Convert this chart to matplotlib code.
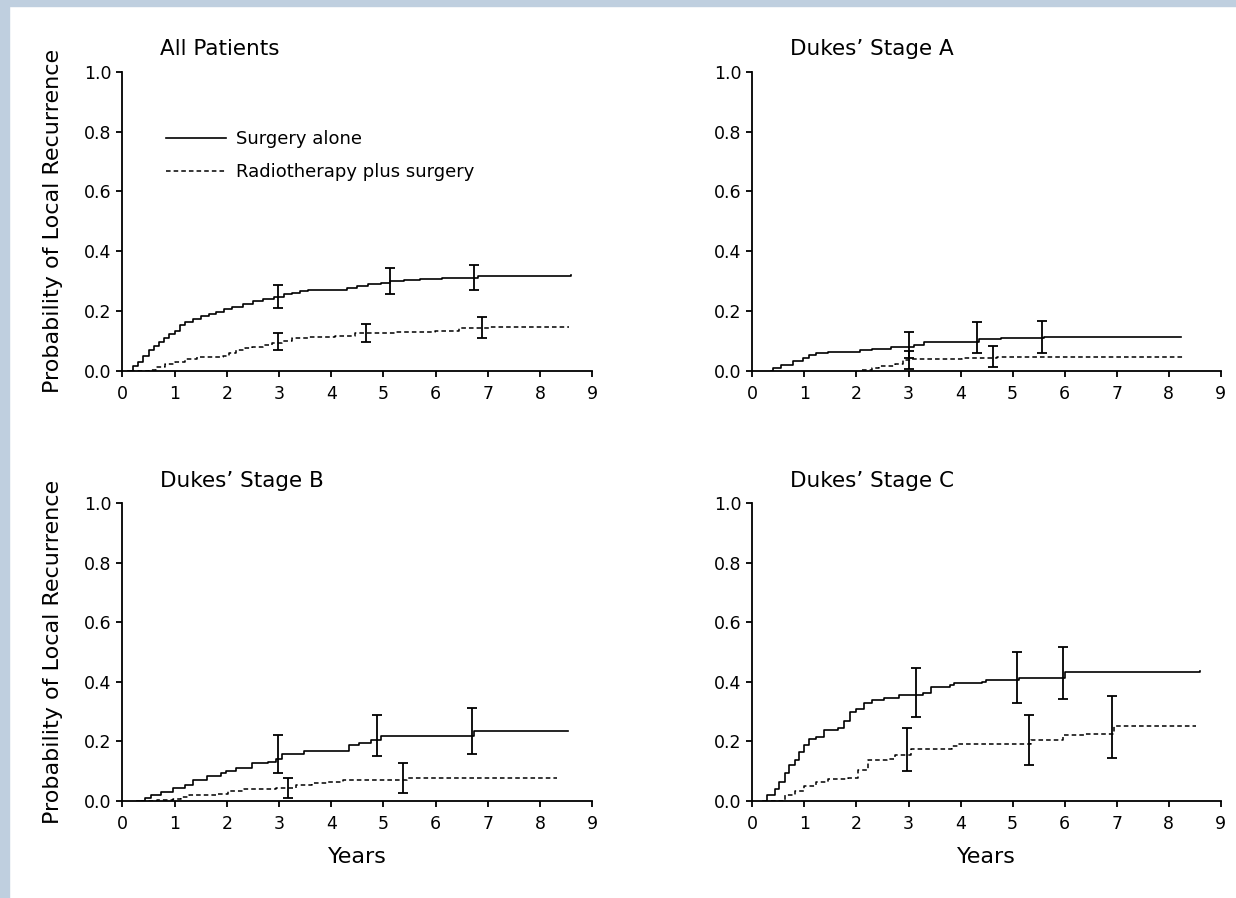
import matplotlib
matplotlib.use('Agg')
import matplotlib.pyplot as plt
from matplotlib.patches import Rectangle

plt.rcParams['font.family'] = ['DejaVu Sans']

# ---- All patients
all_surg_t = [0.1, 0.2, 0.3, 0.4, 0.5, 0.6, 0.7, 0.8, 0.9, 1.0, 1.1, 1.2, 1.35, 1.5, 1.65, 1.8, 1.95,
              2.1, 2.3, 2.5, 2.7, 2.9, 3.1, 3.25, 3.4, 3.55, 4.3, 4.5, 4.7, 4.95, 5.13, 5.4, 5.7,
              6.13, 6.81, 8.6]
all_surg_p = [0.0, 0.015, 0.03, 0.05, 0.07, 0.085, 0.098, 0.11, 0.122, 0.135, 0.155, 0.165, 0.172,
              0.182, 0.19, 0.198, 0.208, 0.215, 0.225, 0.233, 0.24, 0.248, 0.256, 0.262, 0.267,
              0.27, 0.278, 0.284, 0.29, 0.295, 0.30, 0.303, 0.306, 0.312, 0.318, 0.32]
all_surg_eb_t = [2.98, 5.13, 6.74]
all_surg_eb_lo = [0.209, 0.257, 0.271]
all_surg_eb_hi = [0.287, 0.343, 0.354]

all_rad_t = [0.15, 0.5, 0.65, 0.81, 1.0, 1.19, 1.42, 1.92, 2.05, 2.18, 2.35, 2.48, 2.7, 2.86,
             3.05, 3.24, 3.55, 4.08, 4.46, 4.75, 5.22, 5.98, 6.44, 7.04, 8.56]
all_rad_p = [0.0, 0.003, 0.012, 0.022, 0.03, 0.039, 0.045, 0.05, 0.06, 0.07, 0.076, 0.081, 0.087,
             0.092, 0.1, 0.109, 0.112, 0.117, 0.126, 0.128, 0.129, 0.134, 0.143, 0.148, 0.148]
all_rad_eb_t = [2.98, 4.67, 6.88]
all_rad_eb_lo = [0.07, 0.096, 0.109]
all_rad_eb_hi = [0.126, 0.157, 0.18]

# ---- Dukes' stage A
a_surg_t = [0.36, 0.40, 0.55, 0.78, 0.97, 1.08, 1.23, 1.46, 2.06, 2.29, 2.66, 3.11, 3.3, 4.36,
            4.78, 5.6, 8.24]
a_surg_p = [0.0, 0.011, 0.02, 0.033, 0.042, 0.053, 0.059, 0.065, 0.07, 0.073, 0.079, 0.087, 0.096,
            0.106, 0.109, 0.115, 0.115]
a_surg_eb_t = [3.0, 4.32, 5.57]
a_surg_eb_lo = [0.042, 0.061, 0.061]
a_surg_eb_hi = [0.131, 0.163, 0.168]

a_rad_t = [2.1, 2.29, 2.44, 2.74, 2.89, 3.04, 4.02, 4.7, 8.28]
a_rad_p = [0.004, 0.009, 0.018, 0.022, 0.037, 0.039, 0.042, 0.048, 0.048]
a_rad_eb_t = [3.0, 4.63]
a_rad_eb_lo = [0.006, 0.014]
a_rad_eb_hi = [0.067, 0.085]

# ---- Dukes' stage B
b_surg_t = [0.28, 0.43, 0.55, 0.74, 0.97, 1.19, 1.35, 1.61, 1.88, 1.99, 2.18, 2.48, 2.79, 2.94,
            3.05, 3.47, 4.34, 4.53, 4.76, 4.95, 6.74, 8.53]
b_surg_p = [0.0, 0.009, 0.02, 0.031, 0.043, 0.054, 0.071, 0.084, 0.093, 0.101, 0.11, 0.127, 0.13,
            0.141, 0.157, 0.169, 0.188, 0.196, 0.205, 0.218, 0.235, 0.235]
b_surg_eb_t = [2.98, 4.88, 6.7]
b_surg_eb_lo = [0.095, 0.151, 0.157]
b_surg_eb_hi = [0.222, 0.288, 0.311]

b_rad_t = [0.36, 0.66, 0.97, 1.12, 1.27, 1.8, 2.03, 2.33, 2.94, 3.32, 3.63, 3.93, 4.23, 5.45,
           5.98, 8.33]
b_rad_p = [0.0, 0.003, 0.006, 0.015, 0.02, 0.024, 0.034, 0.039, 0.043, 0.054, 0.062, 0.065, 0.07,
           0.078, 0.078, 0.078]
b_rad_eb_t = [3.17, 5.37]
b_rad_eb_lo = [0.009, 0.028]
b_rad_eb_hi = [0.076, 0.127]

# ---- Dukes' stage C
c_surg_t = [0.21, 0.29, 0.44, 0.51, 0.63, 0.7, 0.82, 0.89, 1.0, 1.08, 1.23, 1.38, 1.65, 1.76,
            1.88, 1.99, 2.14, 2.29, 2.52, 2.82, 3.28, 3.43, 3.8, 3.88, 4.41, 4.49, 5.13, 6.0, 8.61]
c_surg_p = [0.0, 0.02, 0.039, 0.065, 0.093, 0.121, 0.138, 0.166, 0.188, 0.208, 0.216, 0.239, 0.244,
            0.267, 0.30, 0.308, 0.328, 0.339, 0.345, 0.355, 0.364, 0.382, 0.39, 0.395, 0.40,
            0.406, 0.414, 0.432, 0.435]
c_surg_eb_t = [3.14, 5.09, 5.96]
c_surg_eb_lo = [0.281, 0.33, 0.342]
c_surg_eb_hi = [0.445, 0.50, 0.516]

c_rad_t = [0.36, 0.63, 0.82, 1.0, 1.23, 1.46, 1.84, 2.03, 2.22, 2.59, 2.75, 3.05, 3.84, 3.96,
           5.36, 5.96, 6.38, 6.94, 8.53]
c_rad_p = [0.0, 0.02, 0.035, 0.05, 0.063, 0.073, 0.076, 0.104, 0.138, 0.14, 0.155, 0.174, 0.183,
           0.19, 0.205, 0.222, 0.224, 0.252, 0.252]
c_rad_eb_t = [2.97, 5.32, 6.91]
c_rad_eb_lo = [0.101, 0.121, 0.146]
c_rad_eb_hi = [0.246, 0.288, 0.353]

titles = ['All Patients', 'Dukes\u2019 Stage A', 'Dukes\u2019 Stage B', 'Dukes\u2019 Stage C']
x_ticks = [0, 1, 2, 3, 4, 5, 6, 7, 8, 9]
y_ticks = [0.0, 0.2, 0.4, 0.6, 0.8, 1.0]

panels = [
    (all_surg_t, all_surg_p, all_surg_eb_t, all_surg_eb_lo, all_surg_eb_hi,
     all_rad_t, all_rad_p, all_rad_eb_t, all_rad_eb_lo, all_rad_eb_hi),
    (a_surg_t, a_surg_p, a_surg_eb_t, a_surg_eb_lo, a_surg_eb_hi,
     a_rad_t, a_rad_p, a_rad_eb_t, a_rad_eb_lo, a_rad_eb_hi),
    (b_surg_t, b_surg_p, b_surg_eb_t, b_surg_eb_lo, b_surg_eb_hi,
     b_rad_t, b_rad_p, b_rad_eb_t, b_rad_eb_lo, b_rad_eb_hi),
    (c_surg_t, c_surg_p, c_surg_eb_t, c_surg_eb_lo, c_surg_eb_hi,
     c_rad_t, c_rad_p, c_rad_eb_t, c_rad_eb_lo, c_rad_eb_hi),
]

# axes boxes in figure fraction [left, bottom, width, height]
boxes = [[0.0991, 0.5869, 0.3801, 0.3333],
         [0.6087, 0.5869, 0.3790, 0.3333],
         [0.0991, 0.1080, 0.3801, 0.3318],
         [0.6087, 0.1080, 0.3790, 0.3318]]

fig = plt.figure(figsize=(12.36, 8.98), dpi=100)
fig.patch.set_facecolor('white')
# light blue frame on top and left edge
fig.patches.append(Rectangle((0, 1 - 6 / 898), 1, 6 / 898, transform=fig.transFigure,
                             color='#bfcfdf', zorder=0))
fig.patches.append(Rectangle((0, 0), 9 / 1236, 1, transform=fig.transFigure,
                             color='#bfcfdf', zorder=0))

def errbars(ax, t, lo, hi):
    mid = [(a + b) / 2 for a, b in zip(lo, hi)]
    half = [(b - a) / 2 for a, b in zip(lo, hi)]
    ax.errorbar(t, mid, yerr=half, fmt='none', ecolor='black', elinewidth=1.3,
                capsize=3.8, capthick=1.3, zorder=3)

for i, (box, data, title) in enumerate(zip(boxes, panels, titles)):
    st, sp, set_, slo, shi, rt, rp, ret, rlo, rhi = data
    ax = fig.add_axes(box)
    l1, = ax.step(st, sp, where='post', color='black', lw=1.2, label='Surgery alone')
    l2, = ax.step(rt, rp, where='post', color='black', lw=1.1, linestyle=(0, (3, 2)),
                  label='Radiotherapy plus surgery')
    errbars(ax, set_, slo, shi)
    errbars(ax, ret, rlo, rhi)

    ax.set_xlim(0, 9)
    ax.set_ylim(0, 1)
    ax.set_xticks(x_ticks)
    ax.set_yticks(y_ticks)
    ax.set_yticklabels(['%.1f' % v for v in y_ticks])
    for s in ['top', 'right']:
        ax.spines[s].set_visible(False)
    for s in ['left', 'bottom']:
        ax.spines[s].set_linewidth(1.3)
    ax.tick_params(direction='out', length=4, width=1.3, labelsize=12.5, color='black')
    ax.tick_params(axis='y', pad=4)
    ax.tick_params(axis='x', pad=6)

    ax.text(0.08, 1.055, title, transform=ax.transAxes, fontsize=15.5, ha='left',
            va='baseline')

    if i in (0, 2):
        ax.set_ylabel('Probability of Local Recurrence', fontsize=16)
        ax.yaxis.set_label_coords(-0.126, 0.5)
    if i in (2, 3):
        ax.set_xlabel('Years', fontsize=16)
        ax.xaxis.set_label_coords(0.5, -0.155)
    if i == 0:
        ax.legend(handles=[l1, l2], loc='upper left', bbox_to_anchor=(0.0926, 0.805),
                  frameon=False, fontsize=13, handlelength=3.3, handletextpad=0.55,
                  labelspacing=0.82, borderpad=0, borderaxespad=0)

fig.savefig('out.png', dpi=100, facecolor='white')
